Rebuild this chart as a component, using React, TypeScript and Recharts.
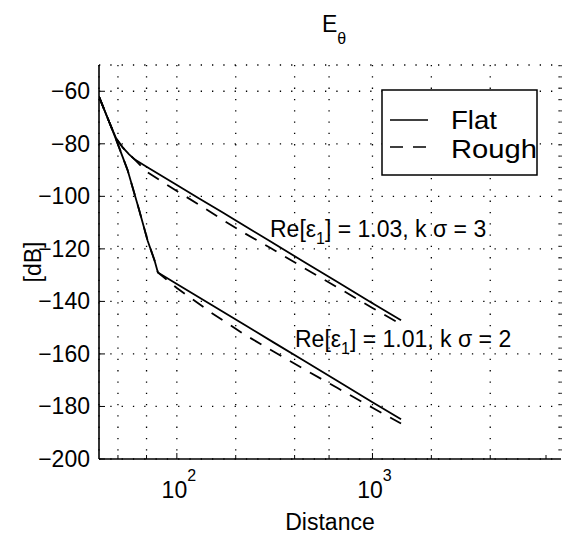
import { LineChart, Line, XAxis, YAxis, CartesianGrid, Legend, Label } from "recharts";

// distances and levels
const distUpper = [40, 45, 49, 53, 57, 61, 70, 100, 130, 170, 225, 300, 450, 650, 1000, 1400];
const flatUpper = [-62, -71.5, -78, -81.5, -84, -86, -88.7, -95.7, -100.8, -106, -111.5, -117.1, -125.1, -132.2, -140.7, -147.2];
const roughUpper = [-62, -71.5, -78, -81.5, -84, -86, -90.6, -98, -103.2, -108.8, -114.3, -119.6, -127.4, -134.3, -142.5, -148.7];

const distLower = [40, 45, 49, 56, 64, 71, 77, 80, 100, 150, 225, 312, 445, 663, 1000, 1400];
const flatLower = [-62, -71.5, -78.5, -90, -104.9, -117, -124.5, -129, -133.4, -141.3, -149.2, -155.6, -162.5, -170.3, -178.4, -184.9];
const roughLower = [-62, -71.5, -78.5, -90, -104.9, -117, -124.5, -129, -134.9, -144.3, -152.9, -159.1, -165.7, -173, -180.5, -186.5];

const xTicks = [50, 60, 70, 80, 90, 100, 200, 300, 400, 500, 600, 700, 800, 900, 1000, 2000, 3000, 4000, 5000, 6000, 7000, 8000, 9000];
const xMajor = [100, 1000];
const yTicks = [-200, -180, -160, -140, -120, -100, -80, -60];
const seriesNames = ["Flat", "Rough"];

const FONT = "'Liberation Sans', Arial, Helvetica, sans-serif";

const toPoints = (xs: number[], ys: number[]) => xs.map((x, i) => ({ x, y: ys[i] }));

const BottomTick = (props: any) => {
  const { x, y, payload } = props;
  const v = payload.value;
  const major = xMajor.includes(v);
  return (
    <g>
      <line x1={x} x2={x} y1={y} y2={y - (major ? 6 : 4)} stroke="#000" strokeWidth={1} />
      {major && (
        <text x={x + 2} y={y + 39} textAnchor="middle" fontFamily={FONT} fontSize={23} fill="#000">
          10
          <tspan fontSize={16} dy={-17}>{Math.round(Math.log10(v))}</tspan>
        </text>
      )}
    </g>
  );
};

const TopTick = (props: any) => {
  const { x, y, payload } = props;
  const major = xMajor.includes(payload.value);
  return <line x1={x} x2={x} y1={y} y2={y + (major ? 6 : 4)} stroke="#000" strokeWidth={1} />;
};

const LeftTick = (props: any) => {
  const { x, y, payload } = props;
  return (
    <g>
      <line x1={x} x2={x + 6} y1={y} y2={y} stroke="#000" strokeWidth={1} />
      <text x={x - 9} y={y + 8} textAnchor="end" fontFamily={FONT} fontSize={23} fill="#000">
        {"\u2212" + Math.abs(payload.value)}
      </text>
    </g>
  );
};

const RightTick = (props: any) => {
  const { x, y } = props;
  return <line x1={x} x2={x - 6} y1={y} y2={y} stroke="#000" strokeWidth={1} />;
};

const LegendBox = () => (
  <svg width={157} height={87} style={{ display: "block", overflow: "visible" }}>
    <rect x={1} y={1} width={155} height={85} fill="#fff" stroke="#000" strokeWidth={1.5} />
    <line x1={9} x2={47} y1={31} y2={31} stroke="#000" strokeWidth={1.6} />
    <line x1={9} x2={47} y1={58} y2={58} stroke="#000" strokeWidth={1.6} strokeDasharray="13 10" />
    <text x={70} y={40} fontFamily={FONT} fontSize={25} textLength={46} lengthAdjust="spacingAndGlyphs" fill="#000">{seriesNames[0]}</text>
    <text x={70} y={69} fontFamily={FONT} fontSize={25} textLength={86} lengthAdjust="spacingAndGlyphs" fill="#000">{seriesNames[1]}</text>
  </svg>
);

export default function App() {
  return (
    <div style={{ position: "absolute", left: 0, top: 0, width: 562, height: 537, background: "#fff" }}>
      <LineChart width={562} height={537} margin={{ top: 65, right: 1, bottom: 0, left: 0 }}>
        <CartesianGrid stroke="#000" strokeWidth={1.3} strokeDasharray="1.3 10" />
        <XAxis
          dataKey="x"
          type="number"
          scale="log"
          domain={[40, 9200]}
          allowDataOverflow
          ticks={xTicks}
          tick={<BottomTick />}
          tickLine={false}
          tickSize={0}
          tickMargin={0}
          height={78}
          axisLine={{ stroke: "#000", strokeWidth: 1.6 }}
        >
          <Label value="Distance" position="insideBottom" offset={7} fontFamily={FONT} fontSize={23} fill="#000" />
        </XAxis>
        <XAxis
          xAxisId="top"
          orientation="top"
          dataKey="x"
          type="number"
          scale="log"
          domain={[40, 9200]}
          allowDataOverflow
          ticks={xTicks}
          tick={<TopTick />}
          tickLine={false}
          tickSize={0}
          tickMargin={0}
          height={0}
          axisLine={{ stroke: "#000", strokeWidth: 1.6 }}
        />
        <YAxis
          type="number"
          domain={[-200, -50]}
          ticks={yTicks}
          tick={<LeftTick />}
          tickLine={false}
          tickSize={0}
          tickMargin={0}
          width={99}
          axisLine={{ stroke: "#000", strokeWidth: 1.6 }}
        >
          <Label value="[dB]" angle={-90} position="insideLeft" offset={33} fontFamily={FONT} fontSize={23} fill="#000" style={{ textAnchor: "middle" }} />
        </YAxis>
        <YAxis
          yAxisId="right"
          orientation="right"
          type="number"
          domain={[-200, -50]}
          ticks={yTicks}
          tick={<RightTick />}
          tickLine={false}
          tickSize={0}
          tickMargin={0}
          width={0}
          axisLine={{ stroke: "#000", strokeWidth: 1.6 }}
        />
        <Line data={toPoints(distUpper, flatUpper)} dataKey="y" name={seriesNames[0]} stroke="#000" strokeWidth={1.8} dot={false} isAnimationActive={false} />
        <Line data={toPoints(distUpper, roughUpper)} dataKey="y" name={seriesNames[1]} stroke="#000" strokeWidth={1.8} strokeDasharray="13 10" dot={false} isAnimationActive={false} />
        <Line data={toPoints(distLower, flatLower)} dataKey="y" name={seriesNames[0] + " 2"} stroke="#000" strokeWidth={1.8} dot={false} isAnimationActive={false} />
        <Line data={toPoints(distLower, roughLower)} dataKey="y" name={seriesNames[1] + " 2"} stroke="#000" strokeWidth={1.8} strokeDasharray="13 10" dot={false} isAnimationActive={false} />
        <Legend
          layout="vertical"
          align="center"
          verticalAlign="middle"
          content={<LegendBox />}
          wrapperStyle={{ left: 381, top: 89, width: 157, height: 87 }}
        />
        <text x={322} y={32} fontFamily={FONT} fontSize={23} fill="#000">
          E<tspan fontSize={16} dy={12}>{"\u03b8"}</tspan>
        </text>
        <text x={270} y={237} fontFamily={FONT} fontSize={23} fill="#000">
          {"Re[\u03b5"}<tspan fontSize={16} dy={7}>1</tspan><tspan dy={-7}>{"] = 1.03, k \u03c3 = 3"}</tspan>
        </text>
        <text x={295} y={347} fontFamily={FONT} fontSize={23} fill="#000">
          {"Re[\u03b5"}<tspan fontSize={16} dy={7}>1</tspan><tspan dy={-7}>{"] = 1.01, k \u03c3 = 2"}</tspan>
        </text>
      </LineChart>
    </div>
  );
}
